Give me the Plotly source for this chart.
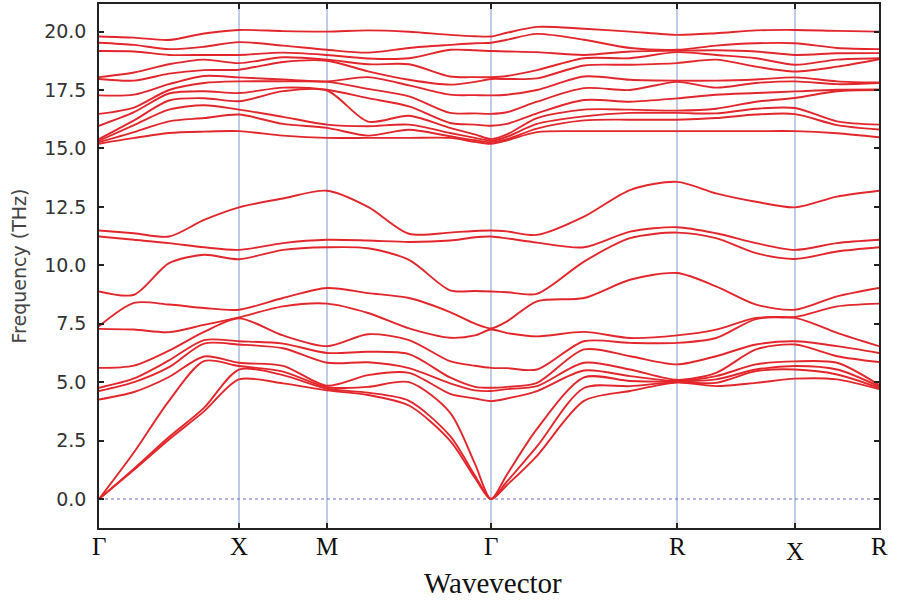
import plotly.graph_objects as go

# path coordinate of each sampled k-point
k_dist = [0, 35, 70, 105, 140, 184, 228, 269, 310, 351, 376, 392, 408, 438, 485, 531, 578, 617, 657, 696, 738, 780]

sym_labels = ["Γ", "X", "M", "Γ", "R", "X", "R"]
sym_pos = [0, 140, 228, 392, 578, 696, 780]

y_ticks = [0.0, 2.5, 5.0, 7.5, 10.0, 12.5, 15.0, 17.5, 20.0]

# lower (acoustic + low optical) frequencies (THz) at each k-point
low_k00 = [11.49, 11.23, 8.88, 7.39, 7.28, 5.61, 4.76, 4.62, 4.26, 0, 0, 0]
low_k01 = [11.37, 11.09, 8.74, 8.39, 7.25, 5.71, 5.16, 5.0, 4.58, 2.0, 1.3, 1.25]
low_k02 = [11.23, 10.95, 10.09, 8.32, 7.14, 6.35, 5.93, 5.64, 5.22, 4.2, 2.65, 2.55]
low_k03 = [11.94, 10.77, 10.45, 8.17, 7.45, 7.15, 6.8, 6.65, 6.1, 5.9, 3.9, 3.75]
low_k04 = [12.48, 10.66, 10.26, 8.10, 7.77, 7.73, 6.75, 6.61, 5.83, 5.69, 5.54, 5.12]
low_k05 = [12.86, 10.95, 10.66, 8.6, 8.24, 7.0, 6.65, 6.45, 5.7, 5.45, 5.3, 4.95]
low_k06 = [13.19, 11.09, 10.77, 9.03, 8.36, 6.54, 6.25, 5.83, 4.85, 4.78, 4.72, 4.65]
low_k07 = [12.5, 11.06, 10.73, 8.81, 7.96, 7.05, 6.3, 5.85, 5.3, 4.8, 4.55, 4.45]
low_k08 = [11.35, 11.0, 10.23, 8.6, 7.3, 6.8, 6.2, 5.6, 5.4, 5.0, 4.2, 4.0]
low_k09 = [11.4, 11.06, 8.93, 8.0, 6.9, 5.9, 5.2, 4.95, 4.5, 3.7, 2.7, 2.5]
low_k10 = [11.47, 11.2, 8.9, 7.5, 7.0, 5.7, 4.8, 4.65, 4.3, 1.5, 1.0, 0.9]
low_k11 = [11.49, 11.23, 8.88, 7.3, 7.25, 5.61, 4.76, 4.62, 4.19, 0, 0, 0]
low_k12 = [11.45, 11.15, 8.85, 7.6, 7.1, 5.6, 4.8, 4.7, 4.3, 1.05, 0.75, 0.6]
low_k13 = [11.3, 10.97, 8.78, 8.46, 6.96, 5.54, 4.97, 4.83, 4.62, 3.0, 2.25, 1.85]
low_k14 = [12.08, 10.77, 10.16, 8.6, 7.15, 6.75, 6.4, 5.83, 5.5, 5.2, 4.75, 4.2]
low_k15 = [13.22, 11.44, 11.16, 9.38, 6.89, 6.68, 6.11, 5.54, 5.26, 5.05, 4.83, 4.62]
low_k16 = [13.57, 11.63, 11.4, 9.67, 7.0, 6.68, 5.76, 5.1, 5.05, 5.03, 5.0, 4.98]
low_k17 = [13.08, 11.37, 11.16, 9.1, 7.25, 6.89, 6.11, 5.4, 5.26, 5.12, 4.97, 4.83]
low_k18 = [12.72, 10.95, 10.52, 8.32, 7.75, 7.7, 6.61, 6.4, 5.76, 5.54, 5.47, 4.97]
low_k19 = [12.48, 10.66, 10.27, 8.10, 7.79, 7.75, 6.75, 6.61, 5.89, 5.69, 5.54, 5.15]
low_k20 = [12.94, 10.95, 10.59, 8.67, 8.24, 7.11, 6.54, 6.11, 5.83, 5.54, 5.33, 5.12]
low_k21 = [13.19, 11.09, 10.77, 9.03, 8.36, 6.54, 6.25, 5.86, 4.88, 4.82, 4.76, 4.7]

# upper optical frequencies (THz) at each k-point
up_k00 = [19.79, 19.52, 19.17, 18.05, 17.97, 17.27, 16.48, 15.97, 15.4, 15.33, 15.27, 15.2]
up_k01 = [19.74, 19.43, 19.15, 18.25, 17.9, 17.3, 16.75, 16.55, 16.2, 16.0, 15.7, 15.45]
up_k02 = [19.64, 19.25, 19.0, 18.6, 18.2, 17.75, 17.5, 17.35, 17.05, 16.66, 16.16, 15.66]
up_k03 = [19.92, 19.35, 19.0, 18.8, 18.35, 18.1, 17.8, 17.45, 17.15, 16.85, 16.3, 15.72]
up_k04 = [20.07, 19.55, 19.0, 18.65, 18.37, 18.04, 17.87, 17.37, 17.02, 16.66, 16.45, 15.74]
up_k05 = [20.02, 19.4, 19.1, 18.9, 18.7, 17.95, 17.87, 17.6, 17.45, 16.35, 16.05, 15.55]
up_k06 = [20.0, 19.22, 19.0, 18.8, 18.75, 17.87, 17.85, 17.51, 17.48, 16.02, 15.88, 15.45]
up_k07 = [20.05, 19.1, 18.85, 18.6, 18.3, 18.05, 17.55, 17.15, 16.15, 15.95, 15.55, 15.45]
up_k08 = [19.99, 19.3, 18.86, 18.6, 17.94, 17.7, 17.23, 16.8, 16.4, 16.02, 15.8, 15.45]
up_k09 = [19.86, 19.43, 19.22, 18.08, 17.73, 17.3, 16.52, 16.09, 15.88, 15.66, 15.52, 15.45]
up_k10 = [19.8, 19.5, 19.2, 18.05, 17.85, 17.28, 16.5, 16.02, 15.6, 15.45, 15.35, 15.28]
up_k11 = [19.79, 19.52, 19.17, 18.05, 17.97, 17.27, 16.48, 15.97, 15.4, 15.33, 15.27, 15.2]
up_k12 = [19.95, 19.65, 19.15, 18.1, 17.97, 17.3, 16.55, 16.05, 15.6, 15.5, 15.4, 15.35]
up_k13 = [20.2, 19.9, 19.12, 18.35, 18.0, 17.5, 17.0, 16.5, 16.3, 16.05, 15.85, 15.7]
up_k14 = [20.12, 19.65, 19.0, 18.86, 18.55, 18.08, 17.58, 17.07, 16.66, 16.37, 16.2, 15.74]
up_k15 = [20.0, 19.3, 19.15, 18.86, 18.58, 17.94, 17.5, 17.0, 16.66, 16.52, 16.23, 15.74]
up_k16 = [19.86, 19.22, 19.18, 19.12, 18.65, 17.9, 17.85, 17.14, 16.62, 16.52, 16.23, 15.74]
up_k17 = [19.93, 19.4, 19.2, 19.0, 18.8, 17.9, 17.6, 17.3, 16.7, 16.5, 16.3, 15.74]
up_k18 = [20.05, 19.5, 19.15, 18.86, 18.5, 17.95, 17.8, 17.37, 17.0, 16.7, 16.45, 15.74]
up_k19 = [20.07, 19.5, 19.0, 18.58, 18.29, 18.04, 17.87, 17.44, 17.16, 16.73, 16.47, 15.74]
up_k20 = [20.03, 19.3, 19.07, 18.8, 18.5, 17.87, 17.75, 17.51, 17.45, 16.16, 16.0, 15.65]
up_k21 = [20.0, 19.25, 19.08, 18.86, 18.82, 17.82, 17.8, 17.52, 17.5, 16.02, 15.81, 15.48]

low_rows = [low_k00, low_k01, low_k02, low_k03, low_k04, low_k05, low_k06, low_k07, low_k08, low_k09, low_k10,
            low_k11, low_k12, low_k13, low_k14, low_k15, low_k16, low_k17, low_k18, low_k19, low_k20, low_k21]
up_rows = [up_k00, up_k01, up_k02, up_k03, up_k04, up_k05, up_k06, up_k07, up_k08, up_k09, up_k10,
           up_k11, up_k12, up_k13, up_k14, up_k15, up_k16, up_k17, up_k18, up_k19, up_k20, up_k21]

rows = [sorted(a + b) for a, b in zip(low_rows, up_rows)]
nb = len(rows[0])
bands = [[r[i] for r in rows] for i in range(nb)]

RED = "#e3262b"
fig = go.Figure()
for b in bands:
    fig.add_trace(go.Scatter(x=k_dist, y=b, mode="lines",
                             line=dict(color=RED, width=1.9, shape="spline", smoothing=0.8),
                             hoverinfo="skip", showlegend=False))

# high-symmetry vertical lines
for p in sym_pos[1:-1]:
    fig.add_shape(type="line", xref="x", yref="paper", x0=p, x1=p, y0=0, y1=1,
                  line=dict(color="#7f99cf", width=1), layer="below")
# zero line
fig.add_shape(type="line", xref="paper", yref="y", x0=0, x1=1, y0=0, y1=0,
              line=dict(color="#6a6ad8", width=1, dash="dot"), layer="below")

# x labels
for lab, p in zip(sym_labels, sym_pos):
    dy = -0.036
    if lab == "X" and p > 600:
        dy = -0.045
    fig.add_annotation(x=p, y=dy, xref="x", yref="paper", text=lab, showarrow=False,
                       font=dict(family="Liberation Serif", size=25, color="#111"),
                       xanchor="center", yanchor="middle")

fig.add_annotation(x=0.505, y=-0.105, xref="paper", yref="paper", text="Wavevector", showarrow=False,
                   font=dict(family="Liberation Serif", size=29, color="#111"),
                   xanchor="center", yanchor="middle")
fig.add_annotation(x=-0.102, y=0.5, xref="paper", yref="paper", text="Frequency (THz)", showarrow=False,
                   textangle=-90, font=dict(family="DejaVu Sans", size=19, color="#444"),
                   xanchor="center", yanchor="middle")

fig.update_layout(
    width=899, height=605,
    margin=dict(l=99, r=20, t=2, b=77),
    paper_bgcolor="white", plot_bgcolor="white",
    xaxis=dict(range=[0, 780], tickvals=sym_pos, ticktext=[""] * len(sym_pos),
               ticks="inside", ticklen=5, tickwidth=1.5, tickcolor="#222",
               showline=True, linecolor="#222", linewidth=1.5, mirror="ticks",
               showgrid=False, zeroline=False),
    yaxis=dict(range=[-1.24, 21.18], tickvals=y_ticks, ticktext=[f"{v:.1f}" for v in y_ticks],
               ticks="inside", ticklen=5, tickwidth=1.5, tickcolor="#222",
               tickfont=dict(family="DejaVu Sans", size=19, color="#333"),
               ticklabelstandoff=7,
               showline=True, linecolor="#222", linewidth=1.5, mirror="ticks",
               showgrid=False, zeroline=False),
)

fig.write_html("out.html")
